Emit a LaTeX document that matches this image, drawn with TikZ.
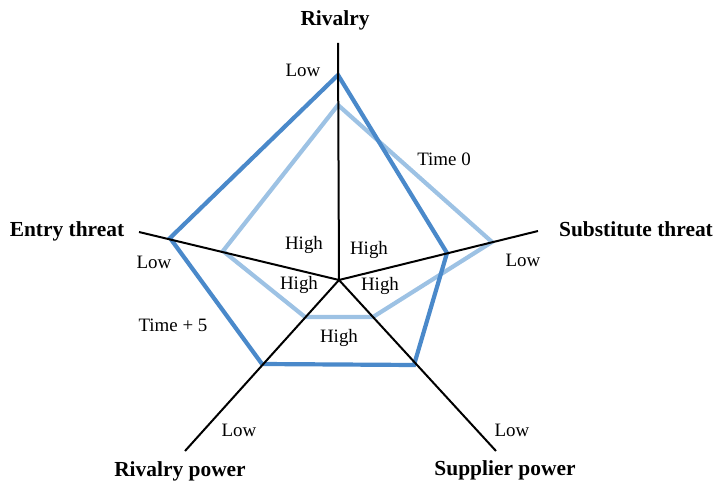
\documentclass[tikz,border=0pt]{standalone}
\usepackage{fontspec}
\setmainfont{Liberation Serif}
\definecolor{darkb}{RGB}{74,137,202}
\definecolor{lightb}{RGB}{157,194,228}
\begin{document}
\begin{tikzpicture}[x=1bp,y=-1bp,
  axis/.style={draw=black,line width=2bp},
  poly/.style={line width=4.2bp,line join=miter},
  lbl/.style={font=\fontsize{19}{21}\selectfont,inner sep=0pt},
  head/.style={font=\fontsize{21.5}{24}\selectfont\bfseries,inner sep=0pt}]
\useasboundingbox (0,0) rectangle (721,483);
% axis ends
\coordinate (c) at (339,280);
\coordinate (aT) at (338,43);
\coordinate (aL) at (139,232);
\coordinate (aR) at (538,231);
\coordinate (aBL) at (185,451);
\coordinate (aBR) at (496,451);
% time + 5 polygon
\coordinate (dT) at (338,75);
\coordinate (dL) at (170,238);
\coordinate (dBL) at (262,364);
\coordinate (dBR) at (414,365);
\coordinate (dR) at (447,253);
% time 0 polygon
\coordinate (lT) at (338,105);
\coordinate (lL) at (223,251);
\coordinate (lBL) at (305,317);
\coordinate (lBR) at (373,317);
\coordinate (lR) at (492,242);
\draw[poly,lightb] (lT) -- (lR) -- (lBR) -- (lBL) -- (lL) -- cycle;
\draw[poly,darkb] (dT) -- (dR) -- (dBR) -- (dBL) -- (dL) -- cycle;
\draw[axis] (c) -- (aT);
\draw[axis] (c) -- (aL);
\draw[axis] (c) -- (aR);
\draw[axis] (c) -- (aBL);
\draw[axis] (c) -- (aBR);
% headings
\node[head] (hT) at (335,20) {Rivalry};
\node[head] (hL) at (67,231) {Entry threat};
\node[head] (hR) at (636,229) {Substitute threat};
\node[head] (hBL) at (180,471) {Rivalry power};
\node[head] (hBR) at (505,470) {Supplier power};
% low labels
\node[lbl] (lowT) at (303,70) {Low};
\node[lbl] (lowL) at (154,262) {Low};
\node[lbl] (lowR) at (523,260) {Low};
\node[lbl] (lowBL) at (239,430) {Low};
\node[lbl] (lowBR) at (512,430) {Low};
% high labels
\node[lbl] (hi1) at (304,245) {High};
\node[lbl] (hi2) at (369,250) {High};
\node[lbl] (hi3) at (299,285) {High};
\node[lbl] (hi4) at (380,286) {High};
\node[lbl] (hi5) at (339,338) {High};
% series labels
\node[lbl] (t0) at (444,159) {Time 0};
\node[lbl] (t5) at (173,325) {Time + 5};
\end{tikzpicture}
\end{document}
